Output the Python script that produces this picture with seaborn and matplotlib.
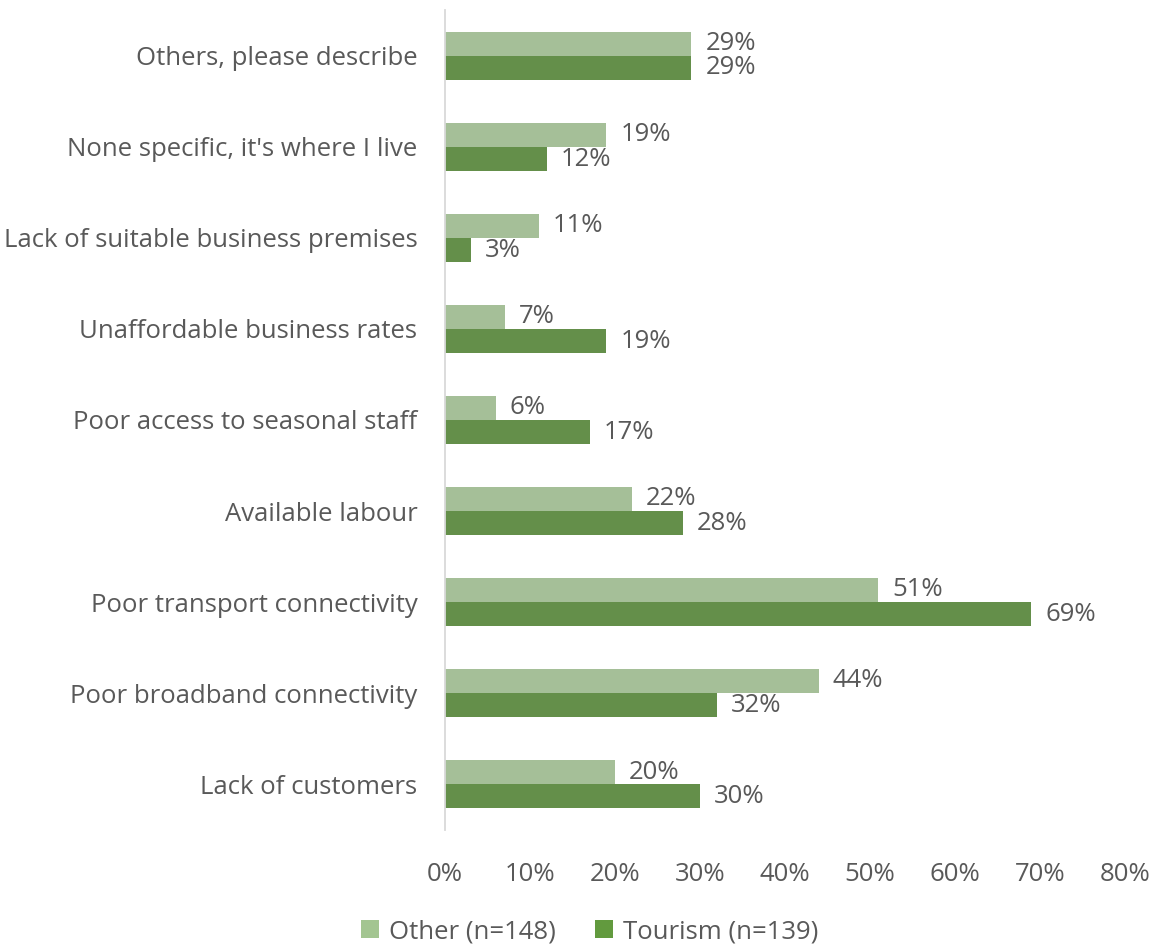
import matplotlib
matplotlib.use("Agg")
import matplotlib.pyplot as plt
import seaborn as sns
import pandas as pd
from matplotlib.patches import Patch

categories = [
    "Others, please describe",
    "None specific, it's where I live",
    "Lack of suitable business premises",
    "Unaffordable business rates",
    "Poor access to seasonal staff",
    "Available labour",
    "Poor transport connectivity",
    "Poor broadband connectivity",
    "Lack of customers",
]
other_pct = [29, 19, 11, 7, 6, 22, 51, 44, 20]
tourism_pct = [29, 12, 3, 19, 17, 28, 69, 32, 30]
series_names = ["Other (n=148)", "Tourism (n=139)"]
x_ticks = [0, 10, 20, 30, 40, 50, 60, 70, 80]

colors = {"Other (n=148)": "#A3C591", "Tourism (n=139)": "#629A3E"}
text_color = "#595959"
font = ["Open Sans", "DejaVu Sans"]
fs = 18.5

df = pd.DataFrame({
    "category": categories * 2,
    "series": [series_names[0]] * len(categories) + [series_names[1]] * len(categories),
    "value": other_pct + tourism_pct,
})

sns.set_theme(style="white")
plt.rcParams["font.family"] = font

fig = plt.figure(figsize=(11.56, 9.47), dpi=100)
ax = fig.add_axes([0.385, 0.124, 0.588, 0.865])

sns.barplot(
    data=df, y="category", x="value", hue="series",
    order=categories, hue_order=series_names,
    palette=colors, orient="h", width=0.53, gap=0,
    linewidth=0, ax=ax, legend=False,
)

for cont, vals in zip(ax.containers, [other_pct, tourism_pct]):
    ax.bar_label(cont, labels=[f"{v}%" for v in vals], padding=10,
                 fontsize=fs, color=text_color, family=font)

ax.set_xlim(0, 80)
ax.set_ylim(len(categories) - 0.5, -0.5)
ax.set_xticks(x_ticks)
ax.set_xticklabels([f"{t}%" for t in x_ticks])
ax.set_xlabel("")
ax.set_ylabel("")
ax.tick_params(axis="x", length=0, pad=23, labelsize=fs, labelcolor=text_color)
ax.tick_params(axis="y", length=0, pad=20, labelsize=fs, labelcolor=text_color)

for side in ["top", "right", "bottom"]:
    ax.spines[side].set_visible(False)
ax.spines["left"].set_color("#D9D9D9")
ax.spines["left"].set_linewidth(1.3)
ax.grid(False)

handles = [Patch(facecolor=colors[s], edgecolor="none", label=s) for s in series_names]
fig.legend(handles=handles, loc="center", bbox_to_anchor=(0.51, 0.016),
           ncol=2, frameon=False, fontsize=fs, labelcolor=text_color,
           handlelength=0.7, handleheight=0.7, handletextpad=0.4,
           columnspacing=1.5)

fig.savefig("out.png", dpi=100)
